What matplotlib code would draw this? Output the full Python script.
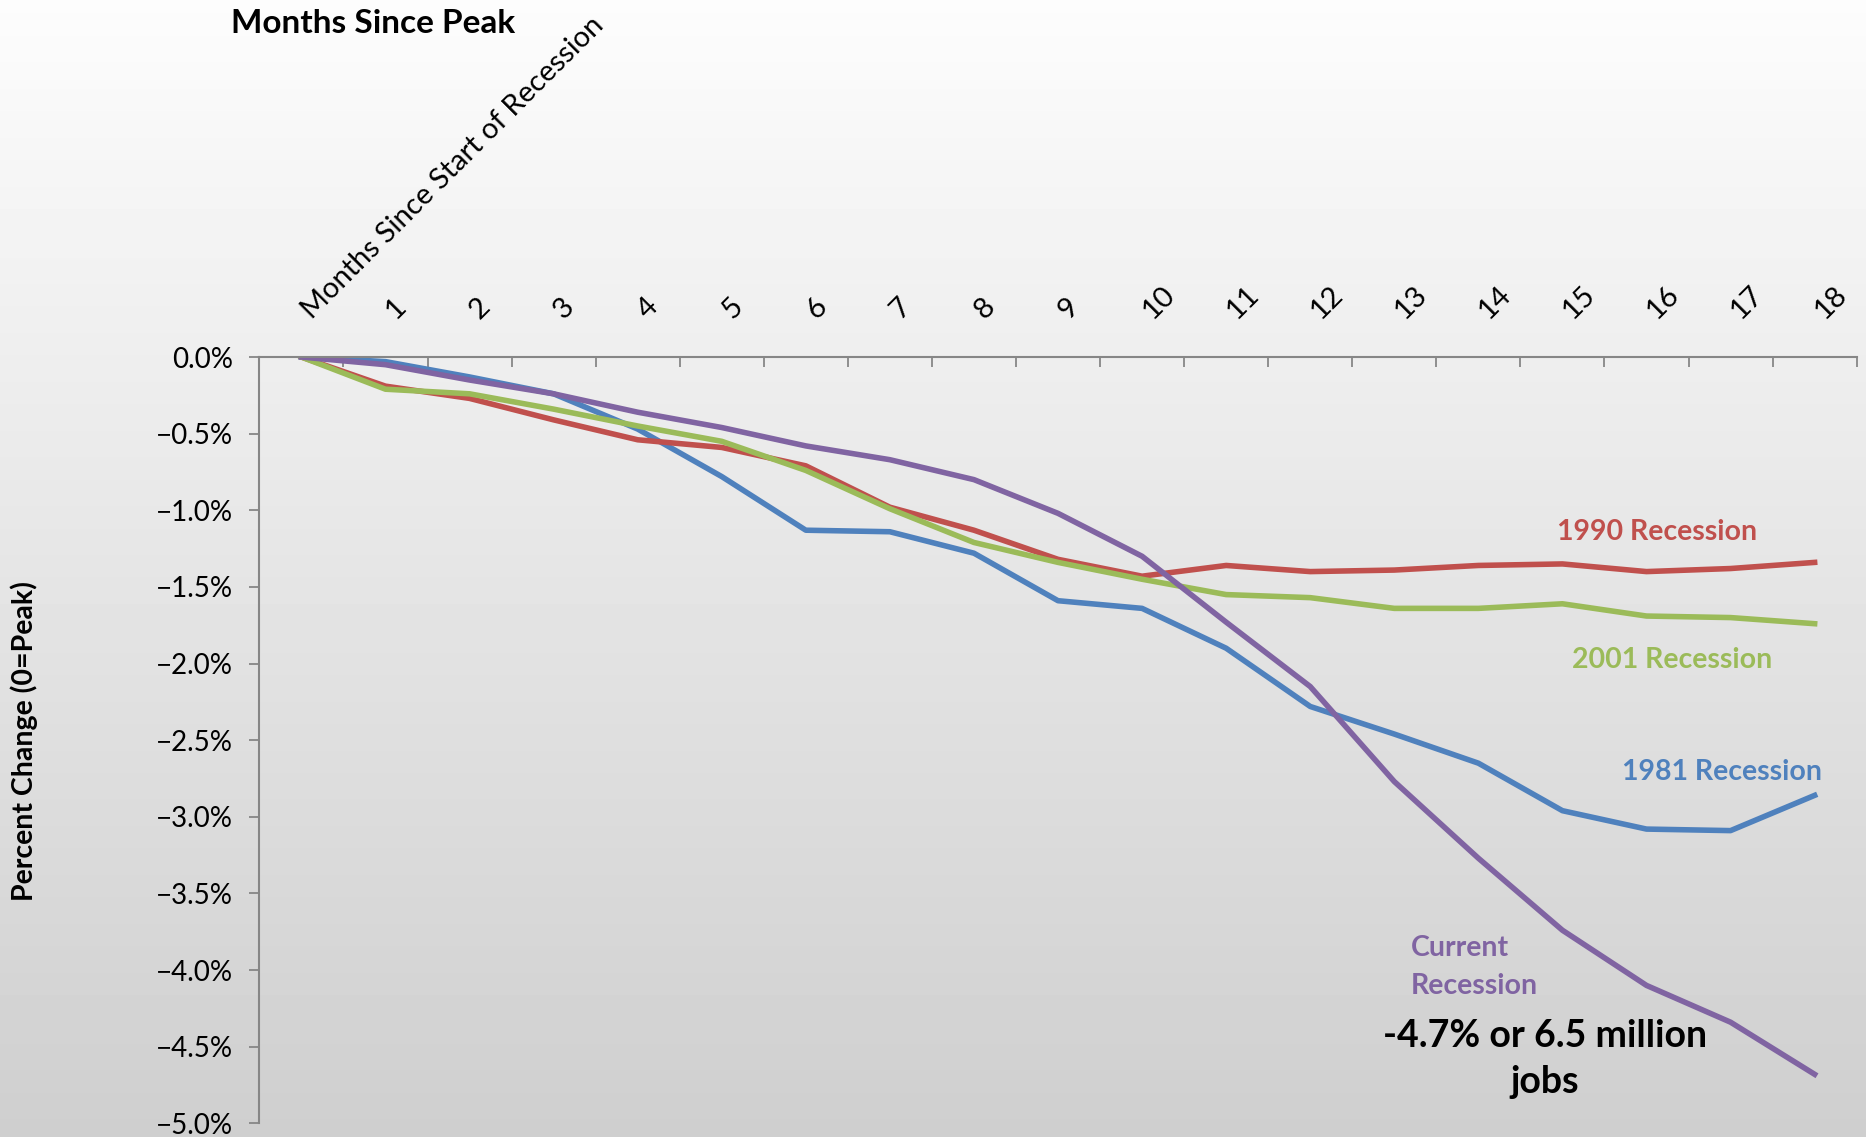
import numpy as np
import matplotlib.pyplot as plt
from matplotlib.ticker import FixedLocator, PercentFormatter
from matplotlib.transforms import ScaledTranslation

plt.rcParams["font.family"] = ["Lato", "DejaVu Sans"]

# Payroll employment, percent change from the peak month
months = list(range(19))
month_labels = ["Months Since Start of Recession"] + [str(m) for m in months[1:]]

rec_1981 = [0.0, -0.03, -0.13, -0.24, -0.47, -0.78, -1.13, -1.14, -1.28, -1.59,
            -1.64, -1.90, -2.28, -2.46, -2.65, -2.96, -3.08, -3.09, -2.86]
rec_1990 = [0.0, -0.19, -0.27, -0.41, -0.54, -0.59, -0.71, -0.98, -1.13, -1.32,
            -1.43, -1.36, -1.40, -1.39, -1.36, -1.35, -1.40, -1.38, -1.34]
rec_2001 = [0.0, -0.21, -0.24, -0.34, -0.45, -0.55, -0.74, -0.99, -1.21, -1.34,
            -1.45, -1.55, -1.57, -1.64, -1.64, -1.61, -1.69, -1.70, -1.74]
rec_current = [0.0, -0.05, -0.15, -0.24, -0.36, -0.46, -0.58, -0.67, -0.80, -1.02,
               -1.30, -1.73, -2.15, -2.77, -3.27, -3.74, -4.10, -4.34, -4.68]

series = [
    ("1981 Recession", rec_1981, "#4F81BD"),
    ("1990 Recession", rec_1990, "#C0504D"),
    ("2001 Recession", rec_2001, "#9BBB59"),
    ("Current Recession", rec_current, "#8064A2"),
]

fig = plt.figure(figsize=(18.66, 11.37), dpi=100)

# vertical grey gradient behind everything
bg = fig.add_axes([0, 0, 1, 1], zorder=-1)
grad = np.linspace(0.99, 0.81, 256).reshape(-1, 1)
bg.imshow(grad, aspect="auto", cmap="gray", vmin=0, vmax=1, extent=[0, 1, 0, 1])
bg.axis("off")

ax = fig.add_axes([0.139, 0.012, 0.856, 0.674])
ax.set_facecolor("none")

for name, vals, color in series:
    ax.plot(months, vals, color=color, lw=4.0, solid_joinstyle="round", label=name)

ax.set_xlim(-0.5, 18.5)
ax.set_ylim(-5.0, 0.0)

# spines: the axis line sits at 0 (top)
for side in ("right", "bottom"):
    ax.spines[side].set_visible(False)
for side in ("left", "top"):
    ax.spines[side].set_color("#868686")
    ax.spines[side].set_linewidth(1.5)

ax.set_yticks(np.arange(-5.0, 0.01, 0.5))
ax.yaxis.set_major_formatter(PercentFormatter(decimals=1))
ax.tick_params(axis="y", direction="out", length=7, width=1.3, color="#868686",
               pad=12, labelsize=20)

# x: tick marks between categories, labels at category centres
ax.xaxis.tick_top()
ax.xaxis.set_major_locator(FixedLocator(np.arange(-0.5, 19, 1.0)))
ax.xaxis.set_minor_locator(FixedLocator(months))
ax.tick_params(axis="x", which="major", direction="in", length=7, width=1.3,
               color="#868686", labeltop=False)
ax.tick_params(axis="x", which="minor", length=0, pad=24, labelsize=21)
ax.set_xticks(months, month_labels, minor=True)
shift = ScaledTranslation(10 / 72, 0, fig.dpi_scale_trans)
for lbl in ax.get_xticklabels(minor=True):
    lbl.set_rotation(45)
    lbl.set_ha("left")
    lbl.set_va("bottom")
    lbl.set_rotation_mode("anchor")
    lbl.set_transform(lbl.get_transform() + shift)

fig.text(0.2, 0.979, "Months Since Peak", ha="center", va="center",
         fontsize=24, fontweight="bold")
fig.text(0.013, 0.348, "Percent Change (0=Peak)", rotation=90, ha="center",
         va="center", fontsize=20.5, fontweight="bold")

ax.text(16.12, -1.14, "1990 Recession", color="#C0504D", ha="center",
        va="center", fontsize=20.5, fontweight="bold")
ax.text(16.3, -1.98, "2001 Recession", color="#9BBB59", ha="center",
        va="center", fontsize=20.5, fontweight="bold")
ax.text(16.9, -2.71, "1981 Recession", color="#4F81BD", ha="center",
        va="center", fontsize=20.5, fontweight="bold")
ax.text(13.2, -3.98, "Current\nRecession", color="#8064A2", ha="left",
        va="center", fontsize=20.5, fontweight="bold", linespacing=1.55)
ax.text(14.79, -4.58, "%.1f%% or 6.5 million\njobs" % rec_current[-1], ha="center",
        va="center", fontsize=27, fontweight="bold", linespacing=1.45)

fig.savefig("out.png", dpi=100)
